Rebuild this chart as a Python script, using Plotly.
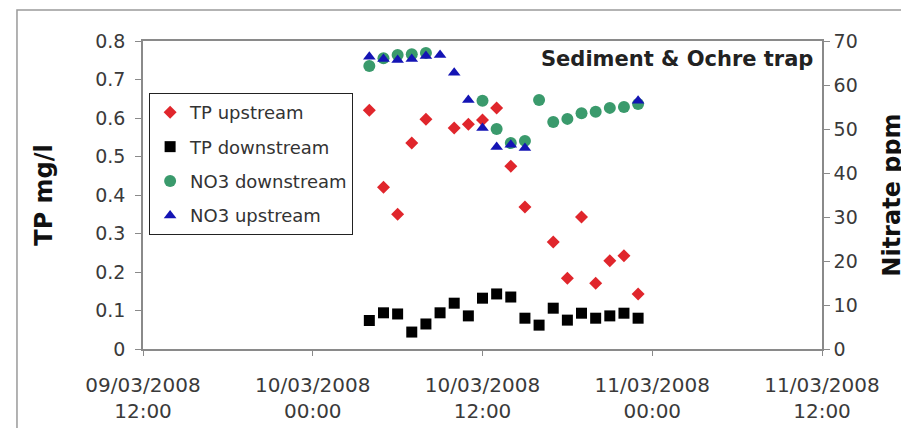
import plotly.graph_objects as go

# ---- data ----
times = ["2008-03-10 04:00", "2008-03-10 05:00", "2008-03-10 06:00", "2008-03-10 07:00",
         "2008-03-10 08:00", "2008-03-10 09:00", "2008-03-10 10:00", "2008-03-10 11:00",
         "2008-03-10 12:00", "2008-03-10 13:00", "2008-03-10 14:00", "2008-03-10 15:00",
         "2008-03-10 16:00", "2008-03-10 17:00", "2008-03-10 18:00", "2008-03-10 19:00",
         "2008-03-10 20:00", "2008-03-10 21:00", "2008-03-10 22:00", "2008-03-10 23:00"]

tp_upstream = [0.620, 0.420, 0.350, 0.535, 0.597, None, 0.574, 0.584, 0.595, 0.626,
               0.475, 0.369, None, 0.278, 0.184, 0.343, 0.171, 0.229, 0.242, 0.143]
tp_downstream = [0.074, 0.094, 0.091, 0.044, 0.065, 0.094, 0.119, 0.086, 0.132, 0.143,
                 0.135, 0.080, 0.062, 0.106, 0.075, 0.093, 0.080, 0.086, 0.093, 0.080]
no3_downstream = [64.3, 66.1, 66.8, 67.0, 67.3, None, None, None, 56.4, 50.0,
                  46.8, 47.3, 56.6, 51.6, 52.3, 53.6, 53.9, 54.8, 55.0, 55.7]
no3_upstream = [66.4, 65.9, 65.7, 65.9, 66.6, 66.8, 62.8, 56.6, 50.2, 45.9,
                46.4, 45.7, None, None, None, None, None, None, None, 56.4]

x_tickvals = ["2008-03-09 12:00", "2008-03-10 00:00", "2008-03-10 12:00",
              "2008-03-11 00:00", "2008-03-11 12:00"]
x_ticktext = ["09/03/2008<br>12:00", "10/03/2008<br>00:00", "10/03/2008<br>12:00",
              "11/03/2008<br>00:00", "11/03/2008<br>12:00"]
tp_ticks = [0, 0.1, 0.2, 0.3, 0.4, 0.5, 0.6, 0.7, 0.8]
tp_ticktext = ["0", "0.1", "0.2", "0.3", "0.4", "0.5", "0.6", "0.7", "0.8"]
no3_ticks = [0, 10, 20, 30, 40, 50, 60, 70]

FONT = "DejaVu Sans"
TICKCOL = "#3a3a3a"
AXCOL = "#8a8a8a"

fig = go.Figure()
fig.add_trace(go.Scatter(x=times, y=tp_upstream, mode="markers", name="TP upstream",
                         legendgroup="a",
                         marker=dict(symbol="diamond", size=10, color="#e0262c")))
fig.add_trace(go.Scatter(x=times, y=tp_downstream, mode="markers", name="TP downstream",
                         legendgroup="b",
                         marker=dict(symbol="square", size=11, color="#000000")))
fig.add_trace(go.Scatter(x=times, y=no3_downstream, mode="markers", name="NO3 downstream",
                         legendgroup="c", yaxis="y2",
                         marker=dict(symbol="circle", size=12, color="#3a9a6c")))
fig.add_trace(go.Scatter(x=times, y=no3_upstream, mode="markers", name="NO3 upstream",
                         legendgroup="d", yaxis="y2",
                         marker=dict(symbol="triangle-up", size=11, color="#1414b4")))

fig.update_layout(
    width=909, height=428,
    margin=dict(l=135, r=95, t=33, b=87),
    paper_bgcolor="white", plot_bgcolor="white",
    font=dict(family=FONT, size=19, color=TICKCOL),
    showlegend=True,
    legend=dict(x=0.009, y=0.831, xanchor="left", yanchor="top",
                bgcolor="white", bordercolor="#222222", borderwidth=1,
                font=dict(family=FONT, size=18, color="#333333"),
                tracegroupgap=8, itemwidth=30),
    xaxis=dict(type="date", range=["2008-03-09 12:00", "2008-03-11 12:00"],
               tickmode="array", tickvals=x_tickvals, ticktext=x_ticktext,
               showgrid=False, zeroline=False, showline=True, linecolor=AXCOL,
               linewidth=1.5, mirror=True, ticks="outside", ticklen=5,
               tickcolor=AXCOL, ticklabelstandoff=12, automargin=False,
               tickfont=dict(family=FONT, size=20, color=TICKCOL)),
    yaxis=dict(range=[0, 0.8], tickmode="array", tickvals=tp_ticks, ticktext=tp_ticktext,
               showgrid=False, zeroline=False, showline=True, linecolor=AXCOL,
               linewidth=1.5, ticks="outside", ticklen=6, tickcolor=AXCOL,
               ticklabelstandoff=6, automargin=False,
               tickfont=dict(family=FONT, size=19, color=TICKCOL),
               title=dict(text="<b>TP mg/l</b>", standoff=36,
                          font=dict(family=FONT, size=24, color="#111111"))),
    yaxis2=dict(range=[0, 70], tickmode="array", tickvals=no3_ticks, overlaying="y",
                side="right", showgrid=False, zeroline=False, showline=True,
                linecolor=AXCOL, linewidth=1.5, ticks="outside", ticklen=6,
                tickcolor=AXCOL, automargin=False,
                tickfont=dict(family=FONT, size=19, color=TICKCOL),
                title=dict(text="<b>Nitrate ppm</b>", standoff=26,
                           font=dict(family=FONT, size=24, color="#111111"))),
    annotations=[dict(text="<b>Sediment &amp; Ochre trap</b>", xref="paper", yref="paper",
                      x=0.99, y=0.942, xanchor="right", yanchor="middle", showarrow=False,
                      font=dict(family=FONT, size=21, color="#222222"))],
    shapes=[dict(type="rect", xref="paper", yref="paper", x0=-0.1856, y0=-0.5,
                 x1=1.3, y1=1.1006, line=dict(color="#9a9a9a", width=1.5),
                 fillcolor="rgba(0,0,0,0)", layer="below")],
)

fig.write_html("out.html")
